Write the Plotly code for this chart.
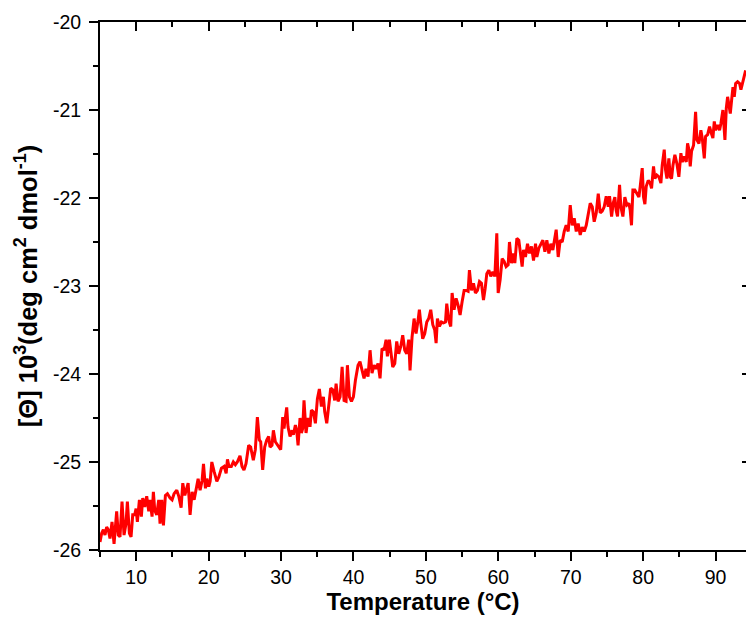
import plotly.graph_objects as go

# Temperature (°C) and mean residue ellipticity [Θ] x 10^3 (deg cm^2 dmol^-1)
temperature = [
    5.00, 5.23, 5.46, 5.69, 5.92, 6.15, 6.38, 6.66, 6.94, 7.30, 7.53, 7.76, 8.04, 8.32, 8.59, 8.78,
    9.06, 9.29, 9.52, 9.79, 9.98, 10.16, 10.44, 10.71, 10.90, 11.18, 11.45, 11.73, 11.91, 12.19,
    12.37, 12.56, 12.83, 13.11, 13.29, 13.53, 13.76, 14.03, 14.31, 14.68, 14.95, 15.23, 15.60,
    15.88, 16.20, 16.43, 16.71, 16.89, 17.17, 17.44, 17.72, 18.00, 18.27, 18.55, 18.82, 19.10,
    19.29, 19.56, 19.75, 20.02, 20.21, 20.44, 20.76, 21.13, 21.41, 21.77, 22.14, 22.42, 22.60,
    22.80, 23.13, 23.41, 23.69, 23.96, 24.33, 24.61, 24.88, 25.16, 25.53, 25.80, 26.17, 26.45,
    26.73, 27.00, 27.19, 27.46, 27.74, 28.02, 28.29, 28.48, 28.75, 28.94, 29.21, 29.49, 29.77,
    29.95, 30.23, 30.41, 30.59, 30.78, 30.96, 31.24, 31.52, 31.70, 31.98, 32.16, 32.35, 32.62,
    32.81, 32.99, 33.17, 33.45, 33.73, 34.00, 34.19, 34.46, 34.74, 35.02, 35.29, 35.57, 35.85,
    36.03, 36.31, 36.58, 36.86, 37.14, 37.41, 37.60, 37.87, 38.15, 38.43, 38.70, 38.98, 39.16,
    39.44, 39.72, 39.99, 40.27, 40.45,
    40.63, 40.90, 41.18, 41.46, 41.73, 42.01, 42.29, 42.56, 42.84, 43.12, 43.39, 43.67, 43.94,
    44.22, 44.50, 44.68, 44.96, 45.23, 45.42, 45.70, 45.97, 46.25, 46.52, 46.80, 47.08, 47.35,
    47.63, 47.81, 48.09, 48.37, 48.64, 48.92, 49.10, 49.29, 49.56, 49.84, 50.12, 50.39, 50.67,
    50.95, 51.22, 51.41, 51.59, 51.87, 52.14, 52.42, 52.70, 52.88, 53.16, 53.43, 53.62, 53.89,
    54.17, 54.45, 54.72, 55.00, 55.28, 55.55, 55.83, 56.01, 56.29, 56.57, 56.84, 57.12, 57.40,
    57.67, 57.95,
    58.18, 58.41, 58.69, 58.96, 59.24, 59.52, 59.79, 59.98, 60.25, 60.53, 60.81, 61.08, 61.36,
    61.54, 61.82, 62.10, 62.28, 62.56, 62.83, 63.02, 63.29, 63.48, 63.75, 64.03, 64.31, 64.58,
    64.86, 65.14, 65.32, 65.60, 65.87, 66.15, 66.43, 66.70, 66.98, 67.25, 67.53, 67.81, 67.99,
    68.27, 68.54, 68.82, 69.10, 69.37, 69.65, 69.93, 70.20, 70.48, 70.76, 71.03, 71.31, 71.58,
    71.86, 72.14, 72.41, 72.69, 72.97, 73.24, 73.52, 73.80, 74.07, 74.35, 74.62, 74.90, 75.18,
    75.36, 75.64,
    75.86, 76.09, 76.27, 76.46, 76.74, 76.92, 77.20, 77.47, 77.75, 78.03, 78.21, 78.39, 78.58,
    78.85, 79.13, 79.41, 79.59, 79.87, 80.05, 80.24, 80.42, 80.70, 80.97, 81.16, 81.43, 81.62,
    81.89, 82.17, 82.45, 82.63, 82.91, 83.09, 83.28, 83.55, 83.74, 83.92, 84.11, 84.38, 84.66,
    84.93, 85.21, 85.40, 85.67, 85.95, 86.13, 86.32, 86.50, 86.68, 86.96, 87.24, 87.42, 87.70,
    87.97, 88.16, 88.44, 88.62, 88.90, 89.17, 89.36, 89.63, 89.82, 90.00, 90.28, 90.55, 90.74,
    91.01, 91.29, 91.48, 91.66, 91.84, 92.03, 92.21, 92.40, 92.58, 92.77, 93.04, 93.32, 93.50,
    93.78, 93.96, 94.15,
]

theta = [
    -25.91, -25.81, -25.77, -25.83, -25.74, -25.77, -25.87, -25.68, -25.93, -25.56, -25.83, -25.85,
    -25.45, -25.83, -25.70, -25.45, -25.81, -25.85, -25.60, -25.60, -25.53, -25.68, -25.43, -25.62,
    -25.41, -25.51, -25.39, -25.56, -25.43, -25.62, -25.34, -25.55, -25.60, -25.43, -25.70, -25.43,
    -25.72, -25.38, -25.36, -25.41, -25.43, -25.36, -25.32, -25.39, -25.52, -25.24, -25.38, -25.32,
    -25.24, -25.60, -25.34, -25.43, -25.32, -25.19, -25.32, -25.21, -25.02, -25.30, -25.19, -25.28,
    -25.22, -25.00, -25.11, -25.22, -25.17, -25.07, -25.05, -25.13, -24.97,
    -25.05, -25.05, -25.00, -25.03, -25.00, -24.93, -25.05, -25.09, -25.02, -24.81, -24.83, -24.98,
    -24.86, -24.49, -24.75, -24.77, -25.09, -24.83, -24.75, -24.71, -24.83, -24.81, -24.64, -24.77,
    -24.81, -24.85, -24.86, -24.49, -24.62, -24.50, -24.38, -24.60, -24.71, -24.64, -24.69, -24.58,
    -24.64, -24.81, -24.50, -24.67, -24.62, -24.30, -24.67, -24.50, -24.60, -24.41, -24.43, -24.56,
    -24.28, -24.17, -24.37, -24.26, -24.43, -24.56, -24.33, -24.16, -24.18, -24.30, -24.11, -24.31,
    -24.26, -23.92, -24.30, -24.31, -23.90, -24.26, -24.31, -24.26, -24.07, -23.99,
    -23.90, -23.86, -23.96, -24.05, -23.94, -24.03, -23.73, -23.99, -23.90, -23.94, -23.88, -24.05,
    -23.71, -23.73, -23.61, -23.80, -23.61, -23.84, -23.92, -23.88, -23.63, -23.77, -23.69, -23.56,
    -23.73, -23.77, -23.61, -23.96, -23.58, -23.37, -23.54, -23.39, -23.27, -23.42, -23.60, -23.54,
    -23.41, -23.37, -23.27, -23.44, -23.50, -23.65, -23.37, -23.46, -23.41, -23.42, -23.41, -23.20,
    -23.39, -23.46, -23.08, -23.27, -23.14, -23.22, -23.33, -23.18, -23.05, -23.05, -23.06, -22.82,
    -23.05, -22.97, -23.08, -23.05, -22.95, -22.97, -23.16,
    -23.03, -22.86, -22.82, -22.89, -22.84, -22.89, -22.40, -23.08, -22.93, -22.69, -22.72, -22.78,
    -22.76, -22.50, -22.74, -22.63, -22.74, -22.46, -22.48, -22.61, -22.78, -22.59, -22.67, -22.52,
    -22.63, -22.55, -22.71, -22.52, -22.67, -22.57, -22.53, -22.48, -22.61, -22.48, -22.63, -22.52,
    -22.59, -22.44, -22.36, -22.67, -22.48, -22.50, -22.38, -22.31, -22.38, -22.08, -22.31, -22.23,
    -22.38, -22.29, -22.42, -22.33, -22.38, -22.31, -22.17, -22.06, -22.10, -22.27, -22.17, -21.95,
    -22.17, -22.15, -22.10, -21.98, -22.10, -21.98, -22.21,
    -22.06, -21.99, -22.14, -22.21, -21.85, -22.10, -22.21, -21.99, -22.08, -22.06, -22.14, -22.31,
    -21.91, -21.91, -21.95, -21.99, -21.87, -21.66, -21.99, -22.07, -21.87, -21.80, -21.83, -21.89,
    -21.64, -21.78, -21.74, -21.76, -21.83, -21.63, -21.45, -21.68, -21.78, -21.55, -21.76, -21.78,
    -21.63, -21.51, -21.61, -21.76, -21.49, -21.59, -21.53, -21.59, -21.38, -21.45, -21.64, -21.47,
    -21.40, -21.02, -21.34, -21.38, -21.23, -21.32, -21.55, -21.30, -21.28, -21.19, -21.25, -21.32,
    -21.13, -21.23, -21.17, -21.23, -21.15, -21.00, -21.34, -20.98, -20.85, -20.96, -21.04, -20.89,
    -20.74, -20.85, -20.70, -20.68, -20.70, -20.77, -20.66, -20.60, -20.55,
]

x_tickvals = [10, 20, 30, 40, 50, 60, 70, 80, 90]
x_ticktext = ["10", "20", "30", "40", "50", "60", "70", "80", "90"]
y_tickvals = [-26, -25, -24, -23, -22, -21, -20]
y_ticktext = ["-26", "-25", "-24", "-23", "-22", "-21", "-20"]
x_range = [5, 94.2]
y_range = [-26, -20]

FONT = "Liberation Sans, Arial, sans-serif"

fig = go.Figure()
# invisible copy on the mirrored axes so that the top / right frame axes get drawn
fig.add_trace(go.Scatter(
    x=temperature, y=theta, mode="lines", xaxis="x2", yaxis="y2",
    line=dict(color="rgba(0,0,0,0)", width=0), opacity=0,
    showlegend=False, hoverinfo="skip",
))
fig.add_trace(go.Scatter(
    x=temperature, y=theta, mode="lines",
    line=dict(color="#FF0000", width=3),
    showlegend=False, hoverinfo="skip",
))

common_minor_x = dict(dtick=5, tick0=0, ticklen=5, tickwidth=2, tickcolor="black", showgrid=False)
common_minor_y = dict(dtick=0.5, tick0=0, ticklen=5, tickwidth=2, tickcolor="black", showgrid=False)

fig.update_layout(
    width=746, height=617,
    margin=dict(l=100, r=0, t=22, b=67, pad=0),
    paper_bgcolor="white", plot_bgcolor="white",
    font=dict(family=FONT, color="black", size=19.5),
    xaxis=dict(
        range=x_range, showgrid=False, zeroline=False,
        showline=True, linecolor="black", linewidth=2,
        ticks="outside", ticklen=9, tickwidth=2, tickcolor="black",
        tickvals=x_tickvals, ticktext=x_ticktext,
        tickfont=dict(size=19.5, family=FONT),
        minor=dict(ticks="outside", **common_minor_x),
        title=dict(text="<b>Temperature (°C)</b>", font=dict(size=24, family=FONT), standoff=4),
        automargin=False,
    ),
    xaxis2=dict(
        range=x_range, overlaying="x", side="top", anchor="y", showgrid=False, zeroline=False,
        showline=True, linecolor="black", linewidth=2,
        ticks="inside", ticklen=9, tickwidth=2, tickcolor="black",
        tickvals=x_tickvals, showticklabels=False,
        minor=dict(ticks="inside", **common_minor_x),
        automargin=False,
    ),
    yaxis=dict(
        range=y_range, showgrid=False, zeroline=False,
        showline=True, linecolor="black", linewidth=2,
        ticks="outside", ticklen=9, tickwidth=2, tickcolor="black",
        tickvals=y_tickvals, ticktext=y_ticktext,
        tickfont=dict(size=19.5, family=FONT),
        ticklabelstandoff=4,
        minor=dict(ticks="outside", **common_minor_y),
        title=dict(text="<b>[Θ] 10<sup>3</sup>(deg cm<sup>2</sup> dmol<sup>-1</sup>)</b>",
                   font=dict(size=25.5, family=FONT), standoff=8),
        automargin=False,
    ),
    yaxis2=dict(
        range=y_range, overlaying="y", side="right", anchor="x", showgrid=False, zeroline=False,
        showline=False,
        ticks="inside", ticklen=4, tickwidth=2, tickcolor="black",
        tickvals=y_tickvals, showticklabels=False,
        automargin=False,
    ),
)

fig.write_html("out.html")
